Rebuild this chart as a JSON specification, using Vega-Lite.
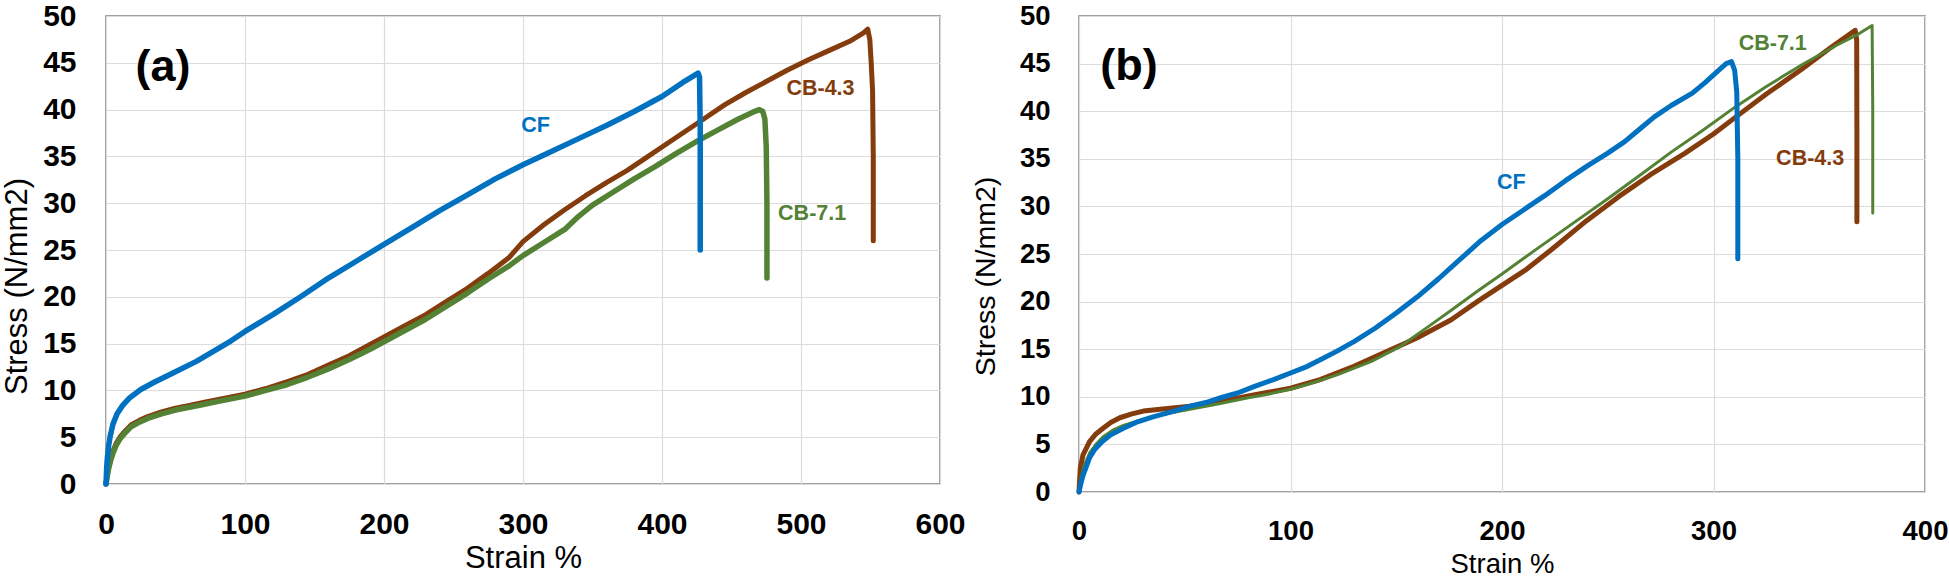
{
  "$schema": "https://vega.github.io/schema/vega-lite/v6.json",
  "background": "white",
  "padding": {"left": 0, "top": 0, "right": 0, "bottom": 0},
  "bounds": "flush",
  "spacing": 139,
  "config": {
    "view": {"stroke": "#808080", "strokeWidth": 1.5},
    "axis": {
      "labelFont": "Liberation Sans",
      "labelFontWeight": "bold",
      "labelColor": "#000000",
      "labelFlush": false,
      "ticks": false,
      "tickSize": 0,
      "domain": false,
      "gridColor": "#DCDCDC",
      "gridWidth": 1.2,
      "titleFont": "Liberation Sans",
      "titleFontWeight": "normal",
      "titleColor": "#000000"
    },
    "text": {"font": "Liberation Sans", "fontWeight": "bold"}
  },
  "datasets": {
    "panelA": [
      {"s": "CF", "i": 0, "strain": 0, "stress": 0},
      {"s": "CF", "i": 1, "strain": 0.5, "stress": 1.8},
      {"s": "CF", "i": 2, "strain": 1, "stress": 2.8},
      {"s": "CF", "i": 3, "strain": 2, "stress": 4.2},
      {"s": "CF", "i": 4, "strain": 3, "stress": 5.1},
      {"s": "CF", "i": 5, "strain": 5, "stress": 6.4},
      {"s": "CF", "i": 6, "strain": 8, "stress": 7.5},
      {"s": "CF", "i": 7, "strain": 12, "stress": 8.4},
      {"s": "CF", "i": 8, "strain": 17, "stress": 9.2},
      {"s": "CF", "i": 9, "strain": 25, "stress": 10.1},
      {"s": "CF", "i": 10, "strain": 35, "stress": 10.9},
      {"s": "CF", "i": 11, "strain": 50, "stress": 12},
      {"s": "CF", "i": 12, "strain": 65, "stress": 13.1},
      {"s": "CF", "i": 13, "strain": 80, "stress": 14.4},
      {"s": "CF", "i": 14, "strain": 90, "stress": 15.3},
      {"s": "CF", "i": 15, "strain": 100, "stress": 16.3},
      {"s": "CF", "i": 16, "strain": 120, "stress": 18.1},
      {"s": "CF", "i": 17, "strain": 140, "stress": 20},
      {"s": "CF", "i": 18, "strain": 160, "stress": 22},
      {"s": "CF", "i": 19, "strain": 180, "stress": 23.8},
      {"s": "CF", "i": 20, "strain": 200, "stress": 25.6},
      {"s": "CF", "i": 21, "strain": 220, "stress": 27.4},
      {"s": "CF", "i": 22, "strain": 240, "stress": 29.2},
      {"s": "CF", "i": 23, "strain": 260, "stress": 30.9},
      {"s": "CF", "i": 24, "strain": 280, "stress": 32.6},
      {"s": "CF", "i": 25, "strain": 300, "stress": 34.1},
      {"s": "CF", "i": 26, "strain": 320, "stress": 35.5},
      {"s": "CF", "i": 27, "strain": 340, "stress": 36.9},
      {"s": "CF", "i": 28, "strain": 360, "stress": 38.3},
      {"s": "CF", "i": 29, "strain": 380, "stress": 39.8},
      {"s": "CF", "i": 30, "strain": 400, "stress": 41.4},
      {"s": "CF", "i": 31, "strain": 415, "stress": 42.9},
      {"s": "CF", "i": 32, "strain": 426, "stress": 43.9},
      {"s": "CF", "i": 33, "strain": 427, "stress": 43.5},
      {"s": "CF", "i": 34, "strain": 427.5, "stress": 38},
      {"s": "CF", "i": 35, "strain": 427.5, "stress": 25},
      {"s": "CB-4.3", "i": 0, "strain": 0, "stress": 0},
      {"s": "CB-4.3", "i": 1, "strain": 1, "stress": 1},
      {"s": "CB-4.3", "i": 2, "strain": 2, "stress": 1.8},
      {"s": "CB-4.3", "i": 3, "strain": 3.5, "stress": 2.7},
      {"s": "CB-4.3", "i": 4, "strain": 5, "stress": 3.5},
      {"s": "CB-4.3", "i": 5, "strain": 7.5, "stress": 4.4},
      {"s": "CB-4.3", "i": 6, "strain": 10, "stress": 5},
      {"s": "CB-4.3", "i": 7, "strain": 14, "stress": 5.7},
      {"s": "CB-4.3", "i": 8, "strain": 18, "stress": 6.3},
      {"s": "CB-4.3", "i": 9, "strain": 24, "stress": 6.8},
      {"s": "CB-4.3", "i": 10, "strain": 30, "stress": 7.2},
      {"s": "CB-4.3", "i": 11, "strain": 40, "stress": 7.7},
      {"s": "CB-4.3", "i": 12, "strain": 50, "stress": 8.1},
      {"s": "CB-4.3", "i": 13, "strain": 60, "stress": 8.4},
      {"s": "CB-4.3", "i": 14, "strain": 70, "stress": 8.7},
      {"s": "CB-4.3", "i": 15, "strain": 80, "stress": 9},
      {"s": "CB-4.3", "i": 16, "strain": 90, "stress": 9.3},
      {"s": "CB-4.3", "i": 17, "strain": 100, "stress": 9.6},
      {"s": "CB-4.3", "i": 18, "strain": 115, "stress": 10.2},
      {"s": "CB-4.3", "i": 19, "strain": 130, "stress": 10.9},
      {"s": "CB-4.3", "i": 20, "strain": 145, "stress": 11.7},
      {"s": "CB-4.3", "i": 21, "strain": 160, "stress": 12.7},
      {"s": "CB-4.3", "i": 22, "strain": 175, "stress": 13.7},
      {"s": "CB-4.3", "i": 23, "strain": 190, "stress": 14.9},
      {"s": "CB-4.3", "i": 24, "strain": 200, "stress": 15.7},
      {"s": "CB-4.3", "i": 25, "strain": 215, "stress": 16.9},
      {"s": "CB-4.3", "i": 26, "strain": 230, "stress": 18.1},
      {"s": "CB-4.3", "i": 27, "strain": 245, "stress": 19.5},
      {"s": "CB-4.3", "i": 28, "strain": 260, "stress": 20.9},
      {"s": "CB-4.3", "i": 29, "strain": 275, "stress": 22.5},
      {"s": "CB-4.3", "i": 30, "strain": 290, "stress": 24.2},
      {"s": "CB-4.3", "i": 31, "strain": 300, "stress": 25.9},
      {"s": "CB-4.3", "i": 32, "strain": 315, "stress": 27.7},
      {"s": "CB-4.3", "i": 33, "strain": 330, "stress": 29.3},
      {"s": "CB-4.3", "i": 34, "strain": 345, "stress": 30.8},
      {"s": "CB-4.3", "i": 35, "strain": 360, "stress": 32.2},
      {"s": "CB-4.3", "i": 36, "strain": 375, "stress": 33.5},
      {"s": "CB-4.3", "i": 37, "strain": 390, "stress": 35},
      {"s": "CB-4.3", "i": 38, "strain": 400, "stress": 36},
      {"s": "CB-4.3", "i": 39, "strain": 415, "stress": 37.5},
      {"s": "CB-4.3", "i": 40, "strain": 430, "stress": 39},
      {"s": "CB-4.3", "i": 41, "strain": 445, "stress": 40.5},
      {"s": "CB-4.3", "i": 42, "strain": 460, "stress": 41.8},
      {"s": "CB-4.3", "i": 43, "strain": 475, "stress": 43},
      {"s": "CB-4.3", "i": 44, "strain": 490, "stress": 44.2},
      {"s": "CB-4.3", "i": 45, "strain": 505, "stress": 45.3},
      {"s": "CB-4.3", "i": 46, "strain": 520, "stress": 46.3},
      {"s": "CB-4.3", "i": 47, "strain": 535, "stress": 47.3},
      {"s": "CB-4.3", "i": 48, "strain": 545, "stress": 48.2},
      {"s": "CB-4.3", "i": 49, "strain": 548, "stress": 48.6},
      {"s": "CB-4.3", "i": 50, "strain": 549.5, "stress": 47.5},
      {"s": "CB-4.3", "i": 51, "strain": 550.5, "stress": 45},
      {"s": "CB-4.3", "i": 52, "strain": 551.5, "stress": 42},
      {"s": "CB-4.3", "i": 53, "strain": 552, "stress": 35},
      {"s": "CB-4.3", "i": 54, "strain": 552, "stress": 26},
      {"s": "CB-7.1", "i": 0, "strain": 0, "stress": 0},
      {"s": "CB-7.1", "i": 1, "strain": 1, "stress": 0.9},
      {"s": "CB-7.1", "i": 2, "strain": 2, "stress": 1.7},
      {"s": "CB-7.1", "i": 3, "strain": 3.5, "stress": 2.6},
      {"s": "CB-7.1", "i": 4, "strain": 5, "stress": 3.3},
      {"s": "CB-7.1", "i": 5, "strain": 7.5, "stress": 4.2},
      {"s": "CB-7.1", "i": 6, "strain": 10, "stress": 4.8},
      {"s": "CB-7.1", "i": 7, "strain": 14, "stress": 5.5},
      {"s": "CB-7.1", "i": 8, "strain": 18, "stress": 6.1},
      {"s": "CB-7.1", "i": 9, "strain": 24, "stress": 6.6},
      {"s": "CB-7.1", "i": 10, "strain": 30, "stress": 7},
      {"s": "CB-7.1", "i": 11, "strain": 40, "stress": 7.5},
      {"s": "CB-7.1", "i": 12, "strain": 50, "stress": 7.9},
      {"s": "CB-7.1", "i": 13, "strain": 60, "stress": 8.2},
      {"s": "CB-7.1", "i": 14, "strain": 70, "stress": 8.5},
      {"s": "CB-7.1", "i": 15, "strain": 80, "stress": 8.8},
      {"s": "CB-7.1", "i": 16, "strain": 90, "stress": 9.1},
      {"s": "CB-7.1", "i": 17, "strain": 100, "stress": 9.4},
      {"s": "CB-7.1", "i": 18, "strain": 115, "stress": 10},
      {"s": "CB-7.1", "i": 19, "strain": 130, "stress": 10.6},
      {"s": "CB-7.1", "i": 20, "strain": 145, "stress": 11.4},
      {"s": "CB-7.1", "i": 21, "strain": 160, "stress": 12.3},
      {"s": "CB-7.1", "i": 22, "strain": 175, "stress": 13.3},
      {"s": "CB-7.1", "i": 23, "strain": 190, "stress": 14.4},
      {"s": "CB-7.1", "i": 24, "strain": 200, "stress": 15.2},
      {"s": "CB-7.1", "i": 25, "strain": 215, "stress": 16.4},
      {"s": "CB-7.1", "i": 26, "strain": 230, "stress": 17.6},
      {"s": "CB-7.1", "i": 27, "strain": 245, "stress": 19},
      {"s": "CB-7.1", "i": 28, "strain": 260, "stress": 20.4},
      {"s": "CB-7.1", "i": 29, "strain": 275, "stress": 21.9},
      {"s": "CB-7.1", "i": 30, "strain": 290, "stress": 23.3},
      {"s": "CB-7.1", "i": 31, "strain": 300, "stress": 24.4},
      {"s": "CB-7.1", "i": 32, "strain": 315, "stress": 25.8},
      {"s": "CB-7.1", "i": 33, "strain": 330, "stress": 27.2},
      {"s": "CB-7.1", "i": 34, "strain": 340, "stress": 28.6},
      {"s": "CB-7.1", "i": 35, "strain": 350, "stress": 29.8},
      {"s": "CB-7.1", "i": 36, "strain": 365, "stress": 31.2},
      {"s": "CB-7.1", "i": 37, "strain": 380, "stress": 32.6},
      {"s": "CB-7.1", "i": 38, "strain": 395, "stress": 33.9},
      {"s": "CB-7.1", "i": 39, "strain": 410, "stress": 35.3},
      {"s": "CB-7.1", "i": 40, "strain": 425, "stress": 36.6},
      {"s": "CB-7.1", "i": 41, "strain": 440, "stress": 37.8},
      {"s": "CB-7.1", "i": 42, "strain": 455, "stress": 39},
      {"s": "CB-7.1", "i": 43, "strain": 465, "stress": 39.7},
      {"s": "CB-7.1", "i": 44, "strain": 470, "stress": 40},
      {"s": "CB-7.1", "i": 45, "strain": 472.5, "stress": 39.8},
      {"s": "CB-7.1", "i": 46, "strain": 474, "stress": 39},
      {"s": "CB-7.1", "i": 47, "strain": 475, "stress": 36},
      {"s": "CB-7.1", "i": 48, "strain": 475.5, "stress": 30},
      {"s": "CB-7.1", "i": 49, "strain": 475.5, "stress": 22}
    ],
    "panelB": [
      {"s": "CF", "i": 0, "strain": 0, "stress": 0},
      {"s": "CF", "i": 1, "strain": 1, "stress": 1},
      {"s": "CF", "i": 2, "strain": 2, "stress": 1.8},
      {"s": "CF", "i": 3, "strain": 3.5, "stress": 2.7},
      {"s": "CF", "i": 4, "strain": 5, "stress": 3.6},
      {"s": "CF", "i": 5, "strain": 7.5, "stress": 4.5},
      {"s": "CF", "i": 6, "strain": 11, "stress": 5.3},
      {"s": "CF", "i": 7, "strain": 15, "stress": 6},
      {"s": "CF", "i": 8, "strain": 21, "stress": 6.7},
      {"s": "CF", "i": 9, "strain": 28, "stress": 7.4},
      {"s": "CF", "i": 10, "strain": 35, "stress": 7.9},
      {"s": "CF", "i": 11, "strain": 45, "stress": 8.5},
      {"s": "CF", "i": 12, "strain": 52, "stress": 9},
      {"s": "CF", "i": 13, "strain": 60, "stress": 9.4},
      {"s": "CF", "i": 14, "strain": 67, "stress": 9.9},
      {"s": "CF", "i": 15, "strain": 75, "stress": 10.4},
      {"s": "CF", "i": 16, "strain": 83, "stress": 11.1},
      {"s": "CF", "i": 17, "strain": 92, "stress": 11.8},
      {"s": "CF", "i": 18, "strain": 100, "stress": 12.5},
      {"s": "CF", "i": 19, "strain": 108, "stress": 13.2},
      {"s": "CF", "i": 20, "strain": 115, "stress": 14},
      {"s": "CF", "i": 21, "strain": 122, "stress": 14.8},
      {"s": "CF", "i": 22, "strain": 130, "stress": 15.8},
      {"s": "CF", "i": 23, "strain": 140, "stress": 17.2},
      {"s": "CF", "i": 24, "strain": 150, "stress": 18.8},
      {"s": "CF", "i": 25, "strain": 160, "stress": 20.5},
      {"s": "CF", "i": 26, "strain": 170, "stress": 22.4},
      {"s": "CF", "i": 27, "strain": 180, "stress": 24.4},
      {"s": "CF", "i": 28, "strain": 190, "stress": 26.4},
      {"s": "CF", "i": 29, "strain": 200, "stress": 28.1},
      {"s": "CF", "i": 30, "strain": 210, "stress": 29.6},
      {"s": "CF", "i": 31, "strain": 220, "stress": 31.1},
      {"s": "CF", "i": 32, "strain": 230, "stress": 32.7},
      {"s": "CF", "i": 33, "strain": 240, "stress": 34.2},
      {"s": "CF", "i": 34, "strain": 250, "stress": 35.6},
      {"s": "CF", "i": 35, "strain": 258, "stress": 36.8},
      {"s": "CF", "i": 36, "strain": 265, "stress": 38.1},
      {"s": "CF", "i": 37, "strain": 272, "stress": 39.4},
      {"s": "CF", "i": 38, "strain": 280, "stress": 40.6},
      {"s": "CF", "i": 39, "strain": 290, "stress": 41.9},
      {"s": "CF", "i": 40, "strain": 296, "stress": 43},
      {"s": "CF", "i": 41, "strain": 302, "stress": 44.2},
      {"s": "CF", "i": 42, "strain": 306, "stress": 45},
      {"s": "CF", "i": 43, "strain": 308.5, "stress": 45.2},
      {"s": "CF", "i": 44, "strain": 310, "stress": 44.3},
      {"s": "CF", "i": 45, "strain": 311, "stress": 42},
      {"s": "CF", "i": 46, "strain": 311.5, "stress": 35},
      {"s": "CF", "i": 47, "strain": 311.5, "stress": 24.5},
      {"s": "CB-4.3", "i": 0, "strain": 0, "stress": 0},
      {"s": "CB-4.3", "i": 1, "strain": 0.6, "stress": 2.5},
      {"s": "CB-4.3", "i": 2, "strain": 1.9, "stress": 3.9},
      {"s": "CB-4.3", "i": 3, "strain": 5, "stress": 5.3},
      {"s": "CB-4.3", "i": 4, "strain": 8, "stress": 6.1},
      {"s": "CB-4.3", "i": 5, "strain": 11.4, "stress": 6.7},
      {"s": "CB-4.3", "i": 6, "strain": 15, "stress": 7.3},
      {"s": "CB-4.3", "i": 7, "strain": 19.3, "stress": 7.8},
      {"s": "CB-4.3", "i": 8, "strain": 25, "stress": 8.2},
      {"s": "CB-4.3", "i": 9, "strain": 30.4, "stress": 8.5},
      {"s": "CB-4.3", "i": 10, "strain": 43, "stress": 8.8},
      {"s": "CB-4.3", "i": 11, "strain": 52.5, "stress": 9},
      {"s": "CB-4.3", "i": 12, "strain": 66.8, "stress": 9.5},
      {"s": "CB-4.3", "i": 13, "strain": 82.6, "stress": 10.2},
      {"s": "CB-4.3", "i": 14, "strain": 100, "stress": 10.9},
      {"s": "CB-4.3", "i": 15, "strain": 114, "stress": 11.8},
      {"s": "CB-4.3", "i": 16, "strain": 130, "stress": 13.2},
      {"s": "CB-4.3", "i": 17, "strain": 146, "stress": 14.8},
      {"s": "CB-4.3", "i": 18, "strain": 160, "stress": 16.2},
      {"s": "CB-4.3", "i": 19, "strain": 176, "stress": 18.1},
      {"s": "CB-4.3", "i": 20, "strain": 189, "stress": 20.1},
      {"s": "CB-4.3", "i": 21, "strain": 200, "stress": 21.7},
      {"s": "CB-4.3", "i": 22, "strain": 211, "stress": 23.3},
      {"s": "CB-4.3", "i": 23, "strain": 223.6, "stress": 25.5},
      {"s": "CB-4.3", "i": 24, "strain": 240, "stress": 28.5},
      {"s": "CB-4.3", "i": 25, "strain": 255, "stress": 31},
      {"s": "CB-4.3", "i": 26, "strain": 270, "stress": 33.3},
      {"s": "CB-4.3", "i": 27, "strain": 286.6, "stress": 35.6},
      {"s": "CB-4.3", "i": 28, "strain": 300, "stress": 37.6},
      {"s": "CB-4.3", "i": 29, "strain": 310, "stress": 39.3},
      {"s": "CB-4.3", "i": 30, "strain": 325, "stress": 41.8},
      {"s": "CB-4.3", "i": 31, "strain": 341.7, "stress": 44.4},
      {"s": "CB-4.3", "i": 32, "strain": 355, "stress": 46.6},
      {"s": "CB-4.3", "i": 33, "strain": 367, "stress": 48.5},
      {"s": "CB-4.3", "i": 34, "strain": 367.7, "stress": 47.5},
      {"s": "CB-4.3", "i": 35, "strain": 367.8, "stress": 38},
      {"s": "CB-4.3", "i": 36, "strain": 367.8, "stress": 28.4},
      {"s": "CB-7.1", "i": 0, "strain": 0, "stress": 0},
      {"s": "CB-7.1", "i": 1, "strain": 1, "stress": 1.5},
      {"s": "CB-7.1", "i": 2, "strain": 2.5, "stress": 2.8},
      {"s": "CB-7.1", "i": 3, "strain": 5, "stress": 4.1},
      {"s": "CB-7.1", "i": 4, "strain": 8, "stress": 5},
      {"s": "CB-7.1", "i": 5, "strain": 11.4, "stress": 5.8},
      {"s": "CB-7.1", "i": 6, "strain": 16, "stress": 6.5},
      {"s": "CB-7.1", "i": 7, "strain": 21, "stress": 7},
      {"s": "CB-7.1", "i": 8, "strain": 27, "stress": 7.4},
      {"s": "CB-7.1", "i": 9, "strain": 35, "stress": 7.9},
      {"s": "CB-7.1", "i": 10, "strain": 43, "stress": 8.3},
      {"s": "CB-7.1", "i": 11, "strain": 55, "stress": 8.8},
      {"s": "CB-7.1", "i": 12, "strain": 66.8, "stress": 9.3},
      {"s": "CB-7.1", "i": 13, "strain": 80, "stress": 9.9},
      {"s": "CB-7.1", "i": 14, "strain": 90, "stress": 10.3},
      {"s": "CB-7.1", "i": 15, "strain": 100, "stress": 10.8},
      {"s": "CB-7.1", "i": 16, "strain": 111, "stress": 11.5},
      {"s": "CB-7.1", "i": 17, "strain": 122, "stress": 12.3},
      {"s": "CB-7.1", "i": 18, "strain": 138, "stress": 13.7},
      {"s": "CB-7.1", "i": 19, "strain": 152, "stress": 15.3},
      {"s": "CB-7.1", "i": 20, "strain": 166, "stress": 17.5},
      {"s": "CB-7.1", "i": 21, "strain": 176, "stress": 19.1},
      {"s": "CB-7.1", "i": 22, "strain": 189, "stress": 21.2},
      {"s": "CB-7.1", "i": 23, "strain": 200, "stress": 22.9},
      {"s": "CB-7.1", "i": 24, "strain": 215, "stress": 25.3},
      {"s": "CB-7.1", "i": 25, "strain": 231.5, "stress": 27.9},
      {"s": "CB-7.1", "i": 26, "strain": 250, "stress": 30.8},
      {"s": "CB-7.1", "i": 27, "strain": 266, "stress": 33.4},
      {"s": "CB-7.1", "i": 28, "strain": 280, "stress": 35.7},
      {"s": "CB-7.1", "i": 29, "strain": 295, "stress": 38},
      {"s": "CB-7.1", "i": 30, "strain": 310, "stress": 40.4},
      {"s": "CB-7.1", "i": 31, "strain": 325, "stress": 42.6},
      {"s": "CB-7.1", "i": 32, "strain": 342, "stress": 44.9},
      {"s": "CB-7.1", "i": 33, "strain": 358, "stress": 46.9},
      {"s": "CB-7.1", "i": 34, "strain": 368.5, "stress": 48.1},
      {"s": "CB-7.1", "i": 35, "strain": 375, "stress": 49},
      {"s": "CB-7.1", "i": 36, "strain": 375.3, "stress": 40},
      {"s": "CB-7.1", "i": 37, "strain": 375.3, "stress": 29.3}
    ],
    "labelsA": [
      {"s": "CF", "strain": 309, "stress": 38.3},
      {"s": "CB-4.3", "strain": 514, "stress": 42.2},
      {"s": "CB-7.1", "strain": 508, "stress": 28.8}
    ],
    "labelsB": [
      {"s": "CF", "strain": 204.4, "stress": 32.5},
      {"s": "CB-7.1", "strain": 328, "stress": 47.1},
      {"s": "CB-4.3", "strain": 345.7, "stress": 35}
    ],
    "tagA": [{"tag": "(a)", "strain": 41, "stress": 44.6}],
    "tagB": [{"tag": "(b)", "strain": 23.6, "stress": 44.8}]
  },
  "hconcat": [
    {
      "width": 834,
      "height": 468,
      "encoding": {
        "x": {
          "field": "strain", "type": "quantitative",
          "scale": {"domain": [0, 600], "nice": false},
          "axis": {"title": "Strain %", "values": [0, 100, 200, 300, 400, 500, 600], "labelFontSize": 30, "labelPadding": 25, "titleFontSize": 31, "titlePadding": 4}
        },
        "y": {
          "field": "stress", "type": "quantitative",
          "scale": {"domain": [0, 50], "nice": false},
          "axis": {"title": "Stress (N/mm2)", "values": [0, 5, 10, 15, 20, 25, 30, 35, 40, 45, 50], "labelFontSize": 30, "labelPadding": 30, "titleFontSize": 31, "titlePadding": 9, "titleY": 270}
        }
      },
      "layer": [
        {
          "data": {"name": "panelA"},
          "transform": [{"filter": "datum.s === 'CB-4.3'"}],
          "mark": {"type": "line", "color": "#843C0C", "strokeWidth": 5, "strokeJoin": "round", "strokeCap": "round"},
          "encoding": {"order": {"field": "i", "type": "quantitative"}}
        },
        {
          "data": {"name": "panelA"},
          "transform": [{"filter": "datum.s === 'CB-7.1'"}],
          "mark": {"type": "line", "color": "#548235", "strokeWidth": 5.5, "strokeJoin": "round", "strokeCap": "round"},
          "encoding": {"order": {"field": "i", "type": "quantitative"}}
        },
        {
          "data": {"name": "panelA"},
          "transform": [{"filter": "datum.s === 'CF'"}],
          "mark": {"type": "line", "color": "#0070C0", "strokeWidth": 5.5, "strokeJoin": "round", "strokeCap": "round"},
          "encoding": {"order": {"field": "i", "type": "quantitative"}}
        },
        {
          "data": {"name": "labelsA"},
          "mark": {"type": "text", "fontSize": 21.5, "align": "center", "baseline": "middle"},
          "encoding": {
            "text": {"field": "s"},
            "color": {"field": "s", "type": "nominal", "legend": null,
              "scale": {"domain": ["CB-4.3", "CB-7.1", "CF"], "range": ["#843C0C", "#548235", "#0070C0"]}}
          }
        },
        {
          "data": {"name": "tagA"},
          "mark": {"type": "text", "fontSize": 45, "color": "#000000", "align": "center", "baseline": "middle"},
          "encoding": {"text": {"field": "tag"}}
        }
      ]
    },
    {
      "width": 846,
      "height": 476,
      "encoding": {
        "x": {
          "field": "strain", "type": "quantitative",
          "scale": {"domain": [0, 400], "nice": false},
          "axis": {"title": "Strain %", "values": [0, 100, 200, 300, 400], "labelFontSize": 27.5, "labelPadding": 25, "titleFontSize": 27.5, "titlePadding": 6}
        },
        "y": {
          "field": "stress", "type": "quantitative",
          "scale": {"domain": [0, 50], "nice": false},
          "axis": {"title": "Stress (N/mm2)", "values": [0, 5, 10, 15, 20, 25, 30, 35, 40, 45, 50], "labelFontSize": 27.5, "labelPadding": 29, "titleFontSize": 28.5, "titlePadding": 19, "titleY": 260}
        }
      },
      "layer": [
        {
          "data": {"name": "panelB"},
          "transform": [{"filter": "datum.s === 'CB-4.3'"}],
          "mark": {"type": "line", "color": "#843C0C", "strokeWidth": 5, "strokeJoin": "round", "strokeCap": "round"},
          "encoding": {"order": {"field": "i", "type": "quantitative"}}
        },
        {
          "data": {"name": "panelB"},
          "transform": [{"filter": "datum.s === 'CB-7.1'"}],
          "mark": {"type": "line", "color": "#548235", "strokeWidth": 3, "strokeJoin": "round", "strokeCap": "round"},
          "encoding": {"order": {"field": "i", "type": "quantitative"}}
        },
        {
          "data": {"name": "panelB"},
          "transform": [{"filter": "datum.s === 'CF'"}],
          "mark": {"type": "line", "color": "#0070C0", "strokeWidth": 5, "strokeJoin": "round", "strokeCap": "round"},
          "encoding": {"order": {"field": "i", "type": "quantitative"}}
        },
        {
          "data": {"name": "labelsB"},
          "mark": {"type": "text", "fontSize": 21.5, "align": "center", "baseline": "middle"},
          "encoding": {
            "text": {"field": "s"},
            "color": {"field": "s", "type": "nominal", "legend": null,
              "scale": {"domain": ["CB-4.3", "CB-7.1", "CF"], "range": ["#843C0C", "#548235", "#0070C0"]}}
          }
        },
        {
          "data": {"name": "tagB"},
          "mark": {"type": "text", "fontSize": 45, "color": "#000000", "align": "center", "baseline": "middle"},
          "encoding": {"text": {"field": "tag"}}
        }
      ]
    }
  ]
}
